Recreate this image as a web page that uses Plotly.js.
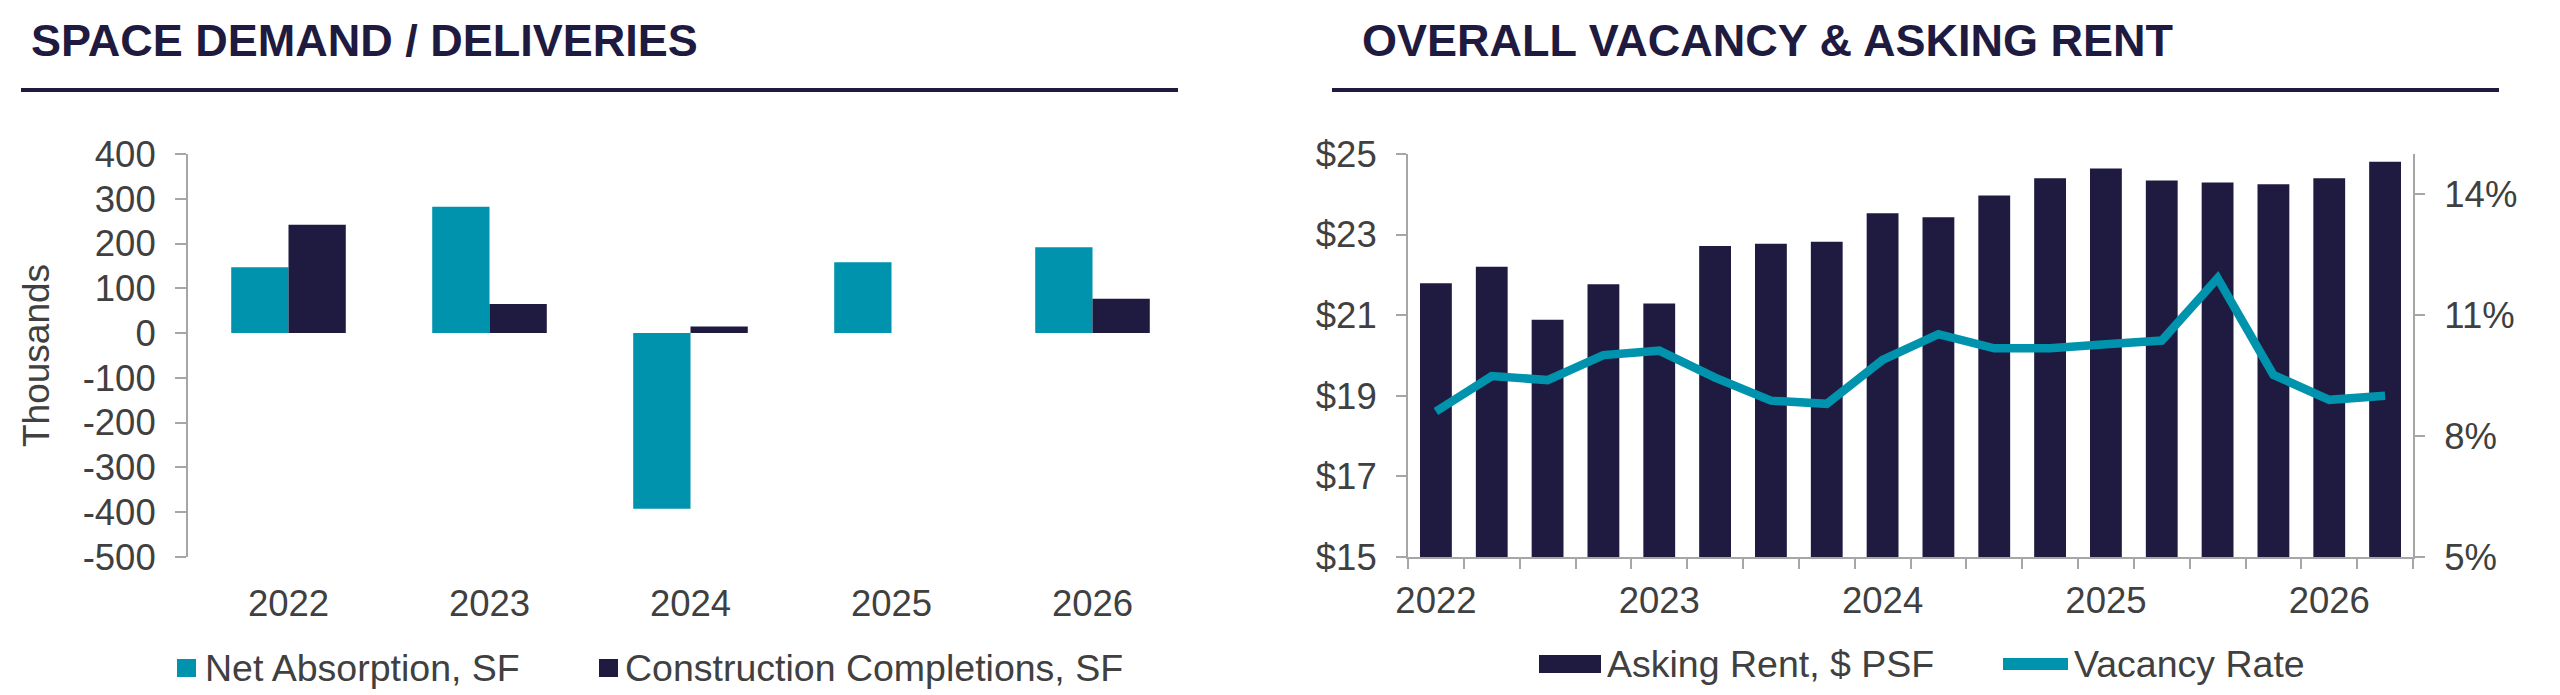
<!DOCTYPE html>
<html>
<head>
<meta charset="utf-8">
<script src="https://cdn.plot.ly/plotly-3.0.1.min.js"></script>
<style>
  html, body { margin: 0; padding: 0; background: #ffffff; }
  #chart { width: 2560px; height: 695px; }
</style>
</head>
<body>
<div id="chart"></div>
<script>
// ---- Space demand / deliveries (thousands of SF) ----
const years = ['2022', '2023', '2024', '2025', '2026'];
const netAbsorption = [147, 282, -392, 158, 192];
const completions = [242, 65, 15, 0, 77];
const demandTicks = [400, 300, 200, 100, 0, -100, -200, -300, -400, -500];

// ---- Overall vacancy & asking rent (quarterly) ----
const quarters = [
  '2022 Q1', '2022 Q2', '2022 Q3', '2022 Q4',
  '2023 Q1', '2023 Q2', '2023 Q3', '2023 Q4',
  '2024 Q1', '2024 Q2', '2024 Q3', '2024 Q4',
  '2025 Q1', '2025 Q2', '2025 Q3', '2025 Q4',
  '2026 Q1', '2026 Q2'
];
const askingRent = [21.79, 22.20, 20.89, 21.77, 21.29, 22.72, 22.77, 22.82, 23.53,
                    23.43, 23.97, 24.40, 24.64, 24.34, 24.29, 24.25, 24.40, 24.81];
const vacancyRate = [8.61, 9.49, 9.39, 10.01, 10.12, 9.45, 8.88, 8.80, 9.89,
                     10.53, 10.18, 10.18, 10.28, 10.37, 11.92, 9.52, 8.90, 9.00];
const rentTicks = [15, 17, 19, 21, 23, 25];
const vacancyTicks = [5, 8, 11, 14];

const seriesNames = {
  absorption: 'Net Absorption, SF',
  completions: 'Construction Completions, SF',
  rent: 'Asking Rent, $ PSF',
  vacancy: 'Vacancy Rate'
};
const titles = ['SPACE DEMAND / DELIVERIES', 'OVERALL VACANCY & ASKING RENT'];

// ---- styling ----
const W = 2560, H = 695;
const TEAL = '#0093ad';
const NAVY = '#1f1a40';
const TEXT = '#404040';
const AXIS = '#a6a6a6';
const FONT = 'Liberation Sans, Arial, sans-serif';
const px = x => x / W;
const py = y => 1 - y / H;

const plotTop = 154, plotBottom = 557;
const yDomain = [py(plotBottom), py(plotTop)];
const leftDomain = [px(188), px(1193)];
const rightDomain = [px(1408), px(2413)];

const demandRange = [-500, 400];
const zeroPos = yDomain[0] + (0 - demandRange[0]) / (demandRange[1] - demandRange[0]) * (yDomain[1] - yDomain[0]);

const tickFont = { family: FONT, size: 36.5, color: TEXT };

const traces = [
  { type: 'bar', x: years, y: netAbsorption, name: seriesNames.absorption,
    marker: { color: TEAL }, xaxis: 'x', yaxis: 'y', showlegend: false },
  { type: 'bar', x: years, y: completions, name: seriesNames.completions,
    marker: { color: NAVY }, xaxis: 'x', yaxis: 'y', showlegend: false },
  { type: 'bar', x: quarters, y: askingRent, name: seriesNames.rent,
    marker: { color: NAVY }, xaxis: 'x2', yaxis: 'y2', showlegend: false },
  { type: 'scatter', mode: 'lines', x: quarters, y: vacancyRate, name: seriesNames.vacancy,
    line: { color: TEAL, width: 8.5 }, xaxis: 'x2', yaxis: 'y3', showlegend: false }
];

// boundaries between categories for the tick marks on the zero line
const yearBounds = [];
for (let i = 0; i <= years.length; i++) yearBounds.push(i - 0.5);

const quarterLabels = quarters.map(q => q.endsWith('Q1') ? q.slice(0, 4) : '');

const layout = {
  width: W, height: H,
  margin: { l: 0, r: 0, t: 0, b: 0, pad: 0 },
  paper_bgcolor: '#ffffff', plot_bgcolor: '#ffffff',
  font: { family: FONT, color: TEXT },
  barmode: 'group',
  bargap: 0.43,
  bargroupgap: 0,
  xaxis: {
    domain: leftDomain, anchor: 'y', type: 'category',
    categoryorder: 'array', categoryarray: years,
    showline: false, ticks: '', showgrid: false, zeroline: false,
    tickangle: 0, tickfont: tickFont, ticklabelstandoff: 21
  },
  xaxis3: {
    overlaying: 'x', anchor: 'free', position: zeroPos,
    type: 'linear', range: [-0.5, years.length - 0.5],
    tickvals: yearBounds, showticklabels: false,
    ticks: 'outside', ticklen: 10, tickwidth: 2, tickcolor: AXIS,
    showline: true, linecolor: AXIS, linewidth: 2,
    showgrid: false, zeroline: false
  },
  yaxis: {
    domain: yDomain, anchor: 'x', range: demandRange,
    tickvals: demandTicks, ticktext: demandTicks.map(String),
    ticks: 'outside', ticklen: 11, tickwidth: 2, tickcolor: AXIS,
    showline: true, linecolor: AXIS, linewidth: 2,
    showgrid: false, zeroline: false,
    tickfont: tickFont, ticklabelstandoff: 12,
    title: { text: 'Thousands', font: { family: FONT, size: 37, color: TEXT }, standoff: 22 }
  },
  xaxis2: {
    domain: rightDomain, anchor: 'y2', type: 'category',
    categoryorder: 'array', categoryarray: quarters,
    tickvals: quarters, ticktext: quarterLabels, tickson: 'boundaries',
    ticks: 'outside', ticklen: 10, tickwidth: 2, tickcolor: AXIS,
    showline: true, linecolor: AXIS, linewidth: 2,
    showgrid: false, zeroline: false,
    tickangle: 0, tickfont: tickFont, ticklabelstandoff: 10
  },
  yaxis2: {
    domain: yDomain, anchor: 'x2', range: [15, 25],
    tickvals: rentTicks, ticktext: rentTicks.map(v => '$' + v),
    ticks: 'outside', ticklen: 10, tickwidth: 2, tickcolor: AXIS,
    showline: true, linecolor: AXIS, linewidth: 2,
    showgrid: false, zeroline: false,
    tickfont: tickFont, ticklabelstandoff: 12
  },
  yaxis3: {
    overlaying: 'y2', side: 'right', anchor: 'x2', range: [5, 15],
    tickvals: vacancyTicks, ticktext: vacancyTicks.map(v => v + '%'),
    ticks: 'outside', ticklen: 10, tickwidth: 2, tickcolor: AXIS,
    showline: true, linecolor: AXIS, linewidth: 2,
    showgrid: false, zeroline: false,
    tickfont: tickFont, ticklabelstandoff: 12
  },
  annotations: [], shapes: []
};

// panel headings with underline rules
const headings = [
  { text: titles[0], x: 29, rule: [21, 1178] },
  { text: titles[1], x: 1360, rule: [1332, 2499] }
];
headings.forEach(h => {
  layout.annotations.push({
    xref: 'paper', yref: 'paper', x: px(h.x), y: py(41),
    xanchor: 'left', yanchor: 'middle', showarrow: false,
    text: '<b>' + h.text + '</b>',
    font: { family: FONT, size: 45, color: NAVY }
  });
  layout.shapes.push({
    type: 'line', xref: 'paper', yref: 'paper',
    x0: px(h.rule[0]), x1: px(h.rule[1]), y0: py(90), y1: py(90),
    line: { color: NAVY, width: 4 }
  });
});

// legend rows under each panel
const legendFont = { family: FONT, size: 37.5, color: TEXT };
function legendText(label, x, y) {
  layout.annotations.push({
    xref: 'paper', yref: 'paper', x: px(x), y: py(y),
    xanchor: 'left', yanchor: 'middle', showarrow: false,
    text: label, font: legendFont
  });
}
function legendBox(color, x0, x1, y0, y1) {
  layout.shapes.push({
    type: 'rect', xref: 'paper', yref: 'paper',
    x0: px(x0), x1: px(x1), y0: py(y1), y1: py(y0),
    fillcolor: color, line: { width: 0 }
  });
}
legendBox(TEAL, 177, 196, 659, 677);
legendText(seriesNames.absorption, 203, 668);
legendBox(NAVY, 599, 618, 659, 677);
legendText(seriesNames.completions, 623, 668);

legendBox(NAVY, 1539, 1601, 655, 673);
legendText(seriesNames.rent, 1605, 664);
layout.shapes.push({
  type: 'line', xref: 'paper', yref: 'paper',
  x0: px(2003), x1: px(2068), y0: py(664), y1: py(664),
  line: { color: TEAL, width: 12 }
});
legendText(seriesNames.vacancy, 2072, 664);

Plotly.newPlot('chart', traces, layout, { displayModeBar: false, staticPlot: true });
</script>
</body>
</html>
